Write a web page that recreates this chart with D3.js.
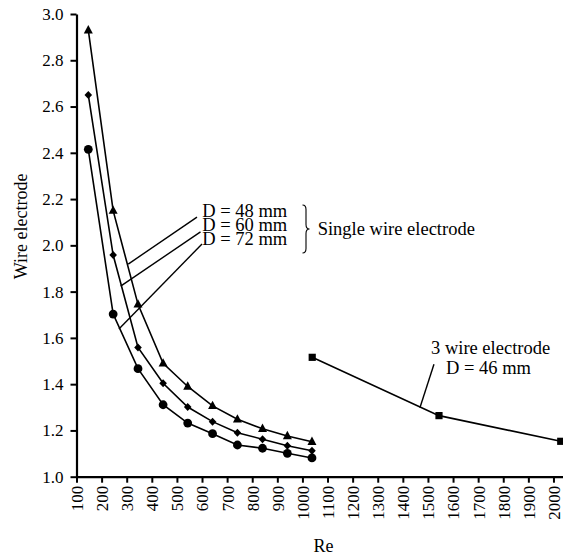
<!DOCTYPE html>
<html>
<head>
<meta charset="utf-8">
<script src="https://cdn.jsdelivr.net/npm/d3@7"></script>
<style>
  html, body { margin: 0; padding: 0; background: #fff; }
  svg { display: block; }
  text { font-family: "Liberation Serif", "Times New Roman", serif; fill: #000; }
</style>
</head>
<body>
<svg id="chart" width="563" height="557"></svg>
<script>
// Reynolds numbers of the single wire electrode runs
const reSingle = [147, 246, 345, 445, 543, 642, 741, 841, 940, 1038];
// Single wire electrode, three pipe diameters
const d48 = [2.93, 2.15, 1.745, 1.49, 1.39, 1.306, 1.248, 1.207, 1.176, 1.151];
const d60 = [2.65, 1.958, 1.559, 1.404, 1.301, 1.238, 1.19, 1.162, 1.134, 1.112];
const d72 = [2.415, 1.703, 1.467, 1.311, 1.232, 1.186, 1.137, 1.123, 1.101, 1.081];
// 3 wire electrode, D = 46 mm
const reThree = [1039, 1544, 2029];
const d46 = [1.516, 1.264, 1.153];

const xTicks = d3.range(100, 2001, 100);
const yTicks = [1.0, 1.2, 1.4, 1.6, 1.8, 2.0, 2.2, 2.4, 2.6, 2.8, 3.0];

const svg = d3.select("#chart");
const x = d3.scaleLinear().domain([100, 2040]).range([76.5, 563.5]);
const y = d3.scaleLinear().domain([1, 3]).range([476.7, 14]);

// axes
const xAxis = svg.append("g")
  .attr("transform", `translate(0,${y(1)})`)
  .call(d3.axisBottom(x).tickValues(xTicks).tickFormat(d3.format("d")).tickSize(6).tickSizeOuter(0));
xAxis.selectAll("text")
  .attr("transform", "rotate(-90)")
  .attr("text-anchor", "end")
  .attr("x", -9).attr("y", 0).attr("dy", "0.35em");

const yAxis = svg.append("g")
  .attr("transform", `translate(${x(100)},0)`)
  .call(d3.axisLeft(y).tickValues(yTicks).tickFormat(d3.format(".1f")).tickSize(6).tickSizeOuter(0).tickPadding(7));

[xAxis, yAxis].forEach(g => {
  g.attr("font-family", null);
  g.select(".domain").attr("stroke", "#000").attr("stroke-width", 2.2);
  g.selectAll(".tick line").attr("stroke", "#000").attr("stroke-width", 2);
  g.selectAll("text").style("font-family", '"Liberation Serif", serif').style("font-size", "17px").attr("fill", "#000");
});

// axis titles
svg.append("text")
  .attr("transform", `translate(27,${(y(1) + y(3)) / 2 - 19}) rotate(-90)`)
  .attr("text-anchor", "middle")
  .style("font-size", "18px")
  .text("Wire electrode");
svg.append("text")
  .attr("x", 323.5).attr("y", 552)
  .attr("text-anchor", "middle")
  .style("font-size", "18px")
  .text("Re");

// series lines
const line = d3.line().x(d => x(d[0])).y(d => y(d[1]));
const zip = (xs, ys) => xs.map((v, i) => [v, ys[i]]);
const series = [
  { pts: zip(reSingle, d48), marker: "triangle" },
  { pts: zip(reSingle, d60), marker: "diamond" },
  { pts: zip(reSingle, d72), marker: "circle" },
  { pts: zip(reThree, d46), marker: "square" }
];

const markerPath = {
  triangle: "M0,-5.2L4.5,3.2L-4.5,3.2Z",
  diamond: "M0,-4L3.8,0L0,4L-3.8,0Z",
  square: "M-3.6,-3.6H3.6V3.6H-3.6Z"
};

series.forEach(s => {
  svg.append("path")
    .datum(s.pts)
    .attr("d", line)
    .attr("fill", "none")
    .attr("stroke", "#000")
    .attr("stroke-width", 1.6);
  const g = svg.append("g");
  if (s.marker === "circle") {
    g.selectAll("circle").data(s.pts).join("circle")
      .attr("cx", d => x(d[0])).attr("cy", d => y(d[1])).attr("r", 4.4).attr("fill", "#000");
  } else {
    g.selectAll("path").data(s.pts).join("path")
      .attr("transform", d => `translate(${x(d[0])},${y(d[1])})`)
      .attr("d", markerPath[s.marker]).attr("fill", "#000");
  }
});

// leader lines, in data units: [curve Re, curve value, label Re, label value]
const leaders = [
  [306, 1.919, 580, 2.122],
  [276, 1.824, 594, 2.058],
  [269, 1.638, 600, 2.006],
  [1468, 1.298, 1524, 1.486]
];
svg.append("g").selectAll("line").data(leaders).join("line")
  .attr("x1", d => x(d[0])).attr("y1", d => y(d[1]))
  .attr("x2", d => x(d[2])).attr("y2", d => y(d[3]))
  .attr("stroke", "#000").attr("stroke-width", 1.4);

// legend labels
const legendLabels = ["D = 48 mm", "D = 60 mm", "D = 72 mm"];
svg.append("g").selectAll("text").data(legendLabels).join("text")
  .attr("x", 202.3).attr("y", (d, i) => 216.7 + i * 14.2)
  .style("font-size", "18.5px")
  .text(d => d);

// brace
svg.append("path")
  .attr("d", "M302.5,205 Q306,205 306,209.5 L306,224.5 Q306,229 309.5,229 Q306,229 306,233.5 L306,248.5 Q306,253 302.5,253")
  .attr("fill", "none").attr("stroke", "#000").attr("stroke-width", 1.1);

svg.append("text").attr("x", 317.7).attr("y", 235).style("font-size", "18.5px").text("Single wire electrode");
svg.append("text").attr("x", 431).attr("y", 353.5).style("font-size", "18.5px").text("3 wire electrode");
svg.append("text").attr("x", 446).attr("y", 374.3).style("font-size", "18.5px").text("D = 46 mm");
</script>
</body>
</html>
